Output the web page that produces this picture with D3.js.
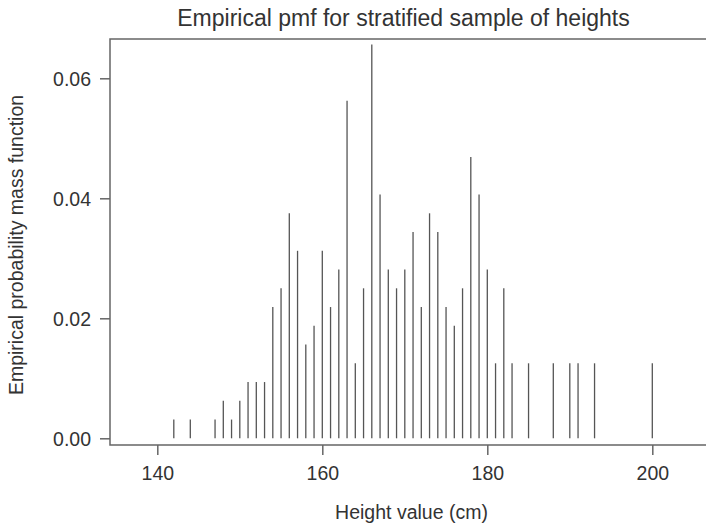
<!DOCTYPE html>
<html>
<head>
<meta charset="utf-8">
<script src="https://cdn.jsdelivr.net/npm/d3@7"></script>
<style>
  body { margin: 0; background: #fff; }
  text { font-family: "Liberation Sans", Arial, sans-serif; fill: #333; }
</style>
</head>
<body>
<div id="wrapper"></div>
<script>
'use strict';

// data - observed heights and their empirical probabilities
const heights = [142, 144, 147, 148, 149, 150, 151, 152, 153, 154, 155, 156, 157, 158, 159,
  160, 161, 162, 163, 164, 165, 166, 167, 168, 169, 170, 171, 172, 173, 174, 175, 176, 177,
  178, 179, 180, 181, 182, 183, 185, 188, 190, 191, 193, 200];
const pmf = [0.003125, 0.003125, 0.003125, 0.00625, 0.003125, 0.00625, 0.009375, 0.009375,
  0.009375, 0.021875, 0.025, 0.0375, 0.03125, 0.015625, 0.01875, 0.03125, 0.021875, 0.028125,
  0.05625, 0.0125, 0.025, 0.065625, 0.040625, 0.028125, 0.025, 0.028125, 0.034375, 0.021875,
  0.0375, 0.034375, 0.021875, 0.01875, 0.025, 0.046875, 0.040625, 0.028125, 0.0125, 0.025,
  0.0125, 0.0125, 0.0125, 0.0125, 0.0125, 0.0125, 0.0125];
const xTicks = [140, 160, 180, 200];
const yTicks = [0, 0.02, 0.04, 0.06];

const dataset = heights.map((h, i) => ({ height: h, p: pmf[i] }));
const xAccessor = d => d.height;
const yAccessor = d => d.p;

// dimensions
const dimensions = {
  width: 706,
  height: 528,
  box: { left: 110, top: 39, right: 706, bottom: 445 },
};

// scales
const xScale = d3.scaleLinear()
  .domain([140, 200])
  .range([157.3, 652.3]);

const yScale = d3.scaleLinear()
  .domain([0, 0.06])
  .range([438.3, 78.3]);

const wrapper = d3.select('#wrapper')
  .append('svg')
  .attr('width', dimensions.width)
  .attr('height', dimensions.height);

// plot frame (right edge falls outside the picture)
const box = dimensions.box;
wrapper.append('path')
  .attr('d', `M${box.right},${box.top}H${box.left}V${box.bottom}H${box.right}`)
  .attr('fill', 'none')
  .attr('stroke', '#666')
  .attr('stroke-width', 1.5);

// vertical lines for pmf
wrapper.append('g')
  .selectAll('line')
  .data(dataset)
  .join('line')
  .attr('x1', d => xScale(xAccessor(d)))
  .attr('x2', d => xScale(xAccessor(d)))
  .attr('y1', yScale(0))
  .attr('y2', d => yScale(yAccessor(d)))
  .attr('stroke', '#555')
  .attr('stroke-width', 1.3);

// axes
const xAxisGenerator = d3.axisBottom(xScale)
  .tickValues(xTicks)
  .tickSize(10)
  .tickPadding(11);

const xAxis = wrapper.append('g')
  .attr('transform', `translate(0, ${box.bottom})`)
  .call(xAxisGenerator);

const yAxisGenerator = d3.axisLeft(yScale)
  .tickValues(yTicks)
  .tickFormat(d3.format('.2f'))
  .tickSize(10)
  .tickPadding(9);

const yAxis = wrapper.append('g')
  .attr('transform', `translate(${box.left}, 0)`)
  .call(yAxisGenerator);

[xAxis, yAxis].forEach(axis => {
  axis.select('.domain').remove();
  axis.selectAll('.tick line').attr('stroke', '#666').attr('stroke-width', 1.5);
  axis.selectAll('.tick text')
    .attr('fill', '#333')
    .style('font-family', '"Liberation Sans", Arial, sans-serif')
    .style('font-size', '19.5px');
});
yAxis.selectAll('.tick text').attr('dy', '0.36em');

// labels
wrapper.append('text')
  .attr('x', 403.5)
  .attr('y', 26)
  .attr('text-anchor', 'middle')
  .style('font-size', '23px')
  .text('Empirical pmf for stratified sample of heights');

wrapper.append('text')
  .attr('x', 411.5)
  .attr('y', 519)
  .attr('text-anchor', 'middle')
  .style('font-size', '19.5px')
  .text('Height value (cm)');

wrapper.append('text')
  .attr('transform', 'translate(23, 245) rotate(-90)')
  .attr('text-anchor', 'middle')
  .style('font-size', '19.5px')
  .text('Empirical probability mass function');
</script>
</body>
</html>
